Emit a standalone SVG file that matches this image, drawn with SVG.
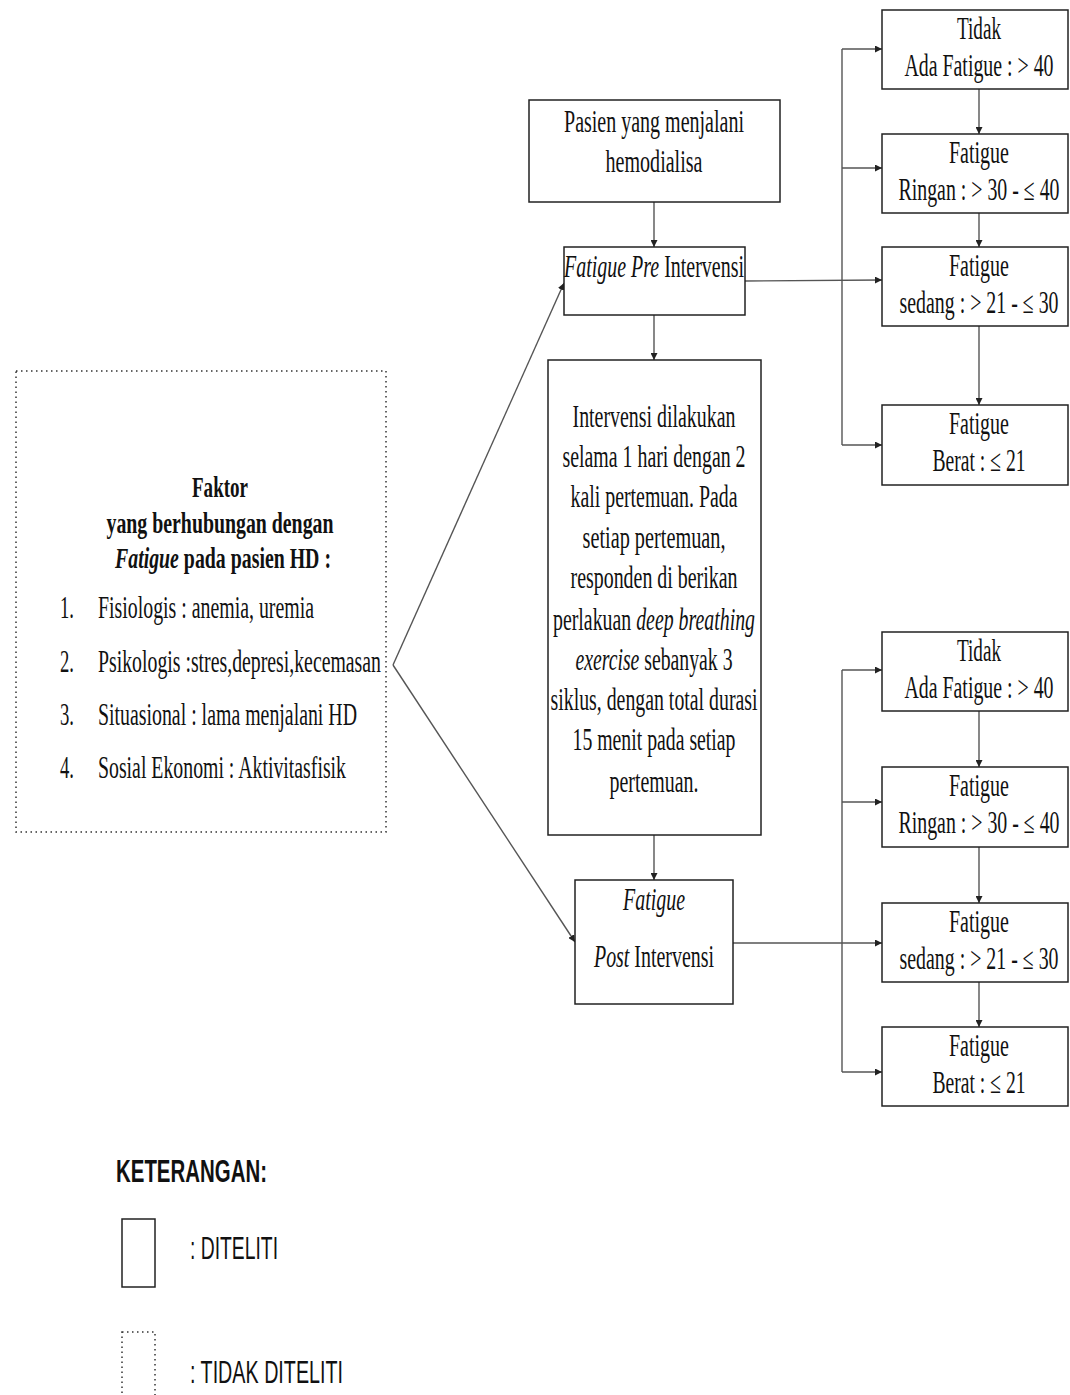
<svg xmlns="http://www.w3.org/2000/svg" width="1070" height="1395" viewBox="0 0 1070 1395">
<style>
.box{fill:#fff;stroke:#222;stroke-width:1.5}
.dot{fill:none;stroke:#333;stroke-width:1.5;stroke-dasharray:1.5 3.5}
.t{font-family:"Liberation Serif","Times New Roman",serif;font-size:31px;fill:#111;text-anchor:middle}
.tl{font-family:"Liberation Serif","Times New Roman",serif;font-size:32px;fill:#111}
.tb{font-family:"Liberation Serif","Times New Roman",serif;font-size:29px;font-weight:bold;fill:#111;text-anchor:middle}
.s{font-family:"Liberation Sans",Arial,sans-serif;font-size:31px;fill:#111}
.c{fill:none;stroke:#555;stroke-width:1.4}
.i{font-style:italic}
</style>
<defs>
<marker id="ah" viewBox="0 0 10 10" refX="10" refY="5" markerWidth="7" markerHeight="7" markerUnits="userSpaceOnUse" orient="auto">
<path d="M0,0 L10,5 L0,10 z" fill="#222"/>
</marker>
</defs>
<rect width="1070" height="1395" fill="#fff"/>

<g id="connectors">
<line class="c" x1="654" y1="202" x2="654" y2="247" marker-end="url(#ah)"/>
<line class="c" x1="654" y1="315" x2="654" y2="360" marker-end="url(#ah)"/>
<line class="c" x1="654" y1="835" x2="654" y2="880" marker-end="url(#ah)"/>
<line class="c" x1="393" y1="665" x2="564" y2="283" marker-end="url(#ah)"/>
<line class="c" x1="393" y1="665" x2="575" y2="942" marker-end="url(#ah)"/>
<line class="c" x1="745" y1="281" x2="882" y2="280" marker-end="url(#ah)"/>
<line class="c" x1="733" y1="943" x2="882" y2="943" marker-end="url(#ah)"/>
<line class="c" x1="842" y1="49" x2="842" y2="445"/>
<line class="c" x1="842" y1="49" x2="882" y2="49" marker-end="url(#ah)"/>
<line class="c" x1="842" y1="168" x2="882" y2="168" marker-end="url(#ah)"/>
<line class="c" x1="842" y1="445" x2="882" y2="445" marker-end="url(#ah)"/>
<line class="c" x1="979" y1="89" x2="979" y2="134" marker-end="url(#ah)"/>
<line class="c" x1="979" y1="213" x2="979" y2="247" marker-end="url(#ah)"/>
<line class="c" x1="979" y1="326" x2="979" y2="405" marker-end="url(#ah)"/>
<line class="c" x1="842" y1="670" x2="842" y2="1072"/>
<line class="c" x1="842" y1="670" x2="882" y2="670" marker-end="url(#ah)"/>
<line class="c" x1="842" y1="802" x2="882" y2="802" marker-end="url(#ah)"/>
<line class="c" x1="842" y1="1072" x2="882" y2="1072" marker-end="url(#ah)"/>
<line class="c" x1="979" y1="711" x2="979" y2="767" marker-end="url(#ah)"/>
<line class="c" x1="979" y1="847" x2="979" y2="903" marker-end="url(#ah)"/>
<line class="c" x1="979" y1="982" x2="979" y2="1027" marker-end="url(#ah)"/>
</g>

<g id="faktor">
<rect class="dot" x="16" y="371" width="370" height="461"/>
<text class="tb" x="220" y="497" textLength="56" lengthAdjust="spacingAndGlyphs">Faktor</text>
<text class="tb" x="220" y="533" textLength="227" lengthAdjust="spacingAndGlyphs">yang berhubungan dengan</text>
<text class="tb" x="223" y="568" textLength="216" lengthAdjust="spacingAndGlyphs"><tspan class="i">Fatigue</tspan> pada pasien HD :</text>
<text class="tl" x="60" y="618" textLength="14" lengthAdjust="spacingAndGlyphs">1.</text>
<text class="tl" x="98" y="618" textLength="216" lengthAdjust="spacingAndGlyphs">Fisiologis : anemia, uremia</text>
<text class="tl" x="60" y="672" textLength="14" lengthAdjust="spacingAndGlyphs">2.</text>
<text class="tl" x="98" y="672" textLength="283" lengthAdjust="spacingAndGlyphs">Psikologis :stres,depresi,kecemasan</text>
<text class="tl" x="60" y="725" textLength="14" lengthAdjust="spacingAndGlyphs">3.</text>
<text class="tl" x="98" y="725" textLength="259" lengthAdjust="spacingAndGlyphs">Situasional : lama menjalani HD</text>
<text class="tl" x="60" y="778" textLength="14" lengthAdjust="spacingAndGlyphs">4.</text>
<text class="tl" x="98" y="778" textLength="248" lengthAdjust="spacingAndGlyphs">Sosial Ekonomi : Aktivitasfisik</text>
</g>

<g id="pasien">
<rect class="box" x="529" y="100" width="251" height="102"/>
<text class="t" x="654" y="132" textLength="180" lengthAdjust="spacingAndGlyphs">Pasien yang menjalani</text>
<text class="t" x="654" y="172" textLength="97" lengthAdjust="spacingAndGlyphs">hemodialisa</text>
</g>

<g id="pre">
<rect class="box" x="564" y="247" width="181" height="68"/>
<text class="t" x="654" y="277" textLength="180" lengthAdjust="spacingAndGlyphs"><tspan class="i">Fatigue Pre</tspan> Intervensi</text>
</g>

<g id="intervensi">
<rect class="box" x="548" y="360" width="213" height="475"/>
<text class="t" x="654" y="427" textLength="163" lengthAdjust="spacingAndGlyphs">Intervensi dilakukan</text>
<text class="t" x="654" y="467" textLength="183" lengthAdjust="spacingAndGlyphs">selama 1 hari dengan 2</text>
<text class="t" x="654" y="507" textLength="167" lengthAdjust="spacingAndGlyphs">kali pertemuan. Pada</text>
<text class="t" x="654" y="548" textLength="143" lengthAdjust="spacingAndGlyphs">setiap pertemuan,</text>
<text class="t" x="654" y="588" textLength="167" lengthAdjust="spacingAndGlyphs">responden di berikan</text>
<text class="t" x="654" y="630" textLength="202" lengthAdjust="spacingAndGlyphs">perlakuan <tspan class="i">deep breathing</tspan></text>
<text class="t" x="654" y="670" textLength="157" lengthAdjust="spacingAndGlyphs"><tspan class="i">exercise</tspan> sebanyak 3</text>
<text class="t" x="654" y="710" textLength="207" lengthAdjust="spacingAndGlyphs">siklus, dengan total durasi</text>
<text class="t" x="654" y="750" textLength="163" lengthAdjust="spacingAndGlyphs">15 menit pada setiap</text>
<text class="t" x="654" y="792" textLength="89" lengthAdjust="spacingAndGlyphs">pertemuan.</text>
</g>

<g id="post">
<rect class="box" x="575" y="880" width="158" height="124"/>
<text class="t" x="654" y="910" textLength="62" lengthAdjust="spacingAndGlyphs"><tspan class="i">Fatigue</tspan></text>
<text class="t" x="654" y="967" textLength="120" lengthAdjust="spacingAndGlyphs"><tspan class="i">Post</tspan> Intervensi</text>
</g>

<g id="pre-tidak">
<rect class="box" x="882" y="10" width="186" height="79"/>
<text class="t" x="979" y="39" textLength="44" lengthAdjust="spacingAndGlyphs">Tidak</text>
<text class="t" x="979" y="76" textLength="149" lengthAdjust="spacingAndGlyphs">Ada Fatigue : &gt; 40</text>
</g>
<g id="pre-ringan">
<rect class="box" x="882" y="134" width="186" height="79"/>
<text class="t" x="979" y="163" textLength="60" lengthAdjust="spacingAndGlyphs">Fatigue</text>
<text class="t" x="979" y="200" textLength="161" lengthAdjust="spacingAndGlyphs">Ringan : &gt; 30 - ≤ 40</text>
</g>
<g id="pre-sedang">
<rect class="box" x="882" y="247" width="186" height="79"/>
<text class="t" x="979" y="276" textLength="60" lengthAdjust="spacingAndGlyphs">Fatigue</text>
<text class="t" x="979" y="313" textLength="159" lengthAdjust="spacingAndGlyphs">sedang : &gt; 21 - ≤ 30</text>
</g>
<g id="pre-berat">
<rect class="box" x="882" y="405" width="186" height="80"/>
<text class="t" x="979" y="434" textLength="60" lengthAdjust="spacingAndGlyphs">Fatigue</text>
<text class="t" x="979" y="471" textLength="93" lengthAdjust="spacingAndGlyphs">Berat : ≤ 21</text>
</g>

<g id="post-tidak">
<rect class="box" x="882" y="632" width="186" height="79"/>
<text class="t" x="979" y="661" textLength="44" lengthAdjust="spacingAndGlyphs">Tidak</text>
<text class="t" x="979" y="698" textLength="149" lengthAdjust="spacingAndGlyphs">Ada Fatigue : &gt; 40</text>
</g>
<g id="post-ringan">
<rect class="box" x="882" y="767" width="186" height="80"/>
<text class="t" x="979" y="796" textLength="60" lengthAdjust="spacingAndGlyphs">Fatigue</text>
<text class="t" x="979" y="833" textLength="161" lengthAdjust="spacingAndGlyphs">Ringan : &gt; 30 - ≤ 40</text>
</g>
<g id="post-sedang">
<rect class="box" x="882" y="903" width="186" height="79"/>
<text class="t" x="979" y="932" textLength="60" lengthAdjust="spacingAndGlyphs">Fatigue</text>
<text class="t" x="979" y="969" textLength="159" lengthAdjust="spacingAndGlyphs">sedang : &gt; 21 - ≤ 30</text>
</g>
<g id="post-berat">
<rect class="box" x="882" y="1027" width="186" height="79"/>
<text class="t" x="979" y="1056" textLength="60" lengthAdjust="spacingAndGlyphs">Fatigue</text>
<text class="t" x="979" y="1093" textLength="93" lengthAdjust="spacingAndGlyphs">Berat : ≤ 21</text>
</g>

<g id="legend">
<text class="s" x="116" y="1182" font-weight="bold" font-size="32" textLength="151" lengthAdjust="spacingAndGlyphs">KETERANGAN:</text>
<rect class="box" x="122" y="1219" width="33" height="68"/>
<text class="s" x="190" y="1259" textLength="88" lengthAdjust="spacingAndGlyphs">: DITELITI</text>
<rect class="dot" x="122" y="1332" width="33" height="80"/>
<text class="s" x="190" y="1383" textLength="153" lengthAdjust="spacingAndGlyphs">: TIDAK DITELITI</text>
</g>
</svg>
